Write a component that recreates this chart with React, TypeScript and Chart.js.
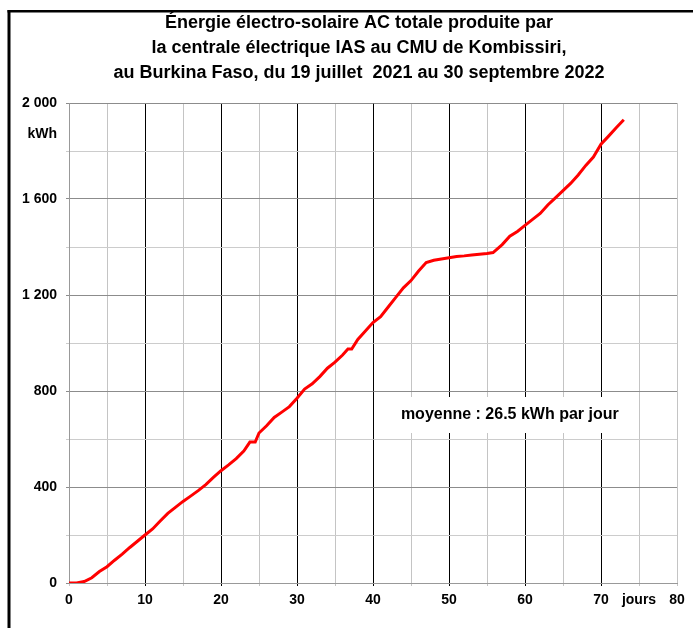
import React, { useEffect, useRef } from "react";
import { Chart, registerables } from "chart.js";

Chart.register(...registerables);

const titleLines = [
  "Énergie électro-solaire AC totale produite par",
  "la centrale électrique IAS au CMU de Kombissiri,",
  "au Burkina Faso, du 19 juillet  2021 au 30 septembre 2022",
];
const yUnit = "kWh";
const xUnit = "jours";
const noteText = "moyenne : 26.5 kWh par jour";

const days = [
  0, 1, 2, 3, 4, 5, 6, 7, 8, 9, 10, 11, 12, 13, 14, 15, 16, 17, 18, 19, 20, 21, 22, 23,
  23.8, 24.5, 25, 26, 27, 28, 29, 30, 31, 32, 33, 34, 35, 36, 36.7, 37.2, 38, 39, 40, 41,
  42, 43, 44, 45, 46, 47, 48, 49, 50, 51, 52, 53, 54, 55, 55.8, 57, 58, 59, 60, 61, 62, 63,
  64, 65, 66, 67, 68, 69, 70, 71, 72, 73,
];
const energy = [
  0, 0, 6, 22, 48, 68, 95, 120, 148, 174, 200, 225, 258, 290, 315, 340, 362, 385, 410,
  440, 468, 492, 518, 550, 587, 587, 625, 655, 690, 712, 735, 770, 808, 830, 860, 895,
  920, 950, 975, 975, 1015, 1050, 1085, 1110, 1150, 1190, 1230, 1260, 1300, 1335, 1345,
  1350, 1355, 1360, 1363, 1367, 1370, 1373, 1377, 1410, 1445, 1465, 1490, 1515, 1540,
  1575, 1605, 1635, 1665, 1700, 1740, 1775, 1828, 1862, 1897, 1930,
];

const FONT = "'Liberation Sans', Arial, sans-serif";

const fmtY = (v: number) => {
  if (v % 400 !== 0) return "";
  if (v >= 1000) return `${Math.floor(v / 1000)} ${String(v % 1000).padStart(3, "0")}`;
  return String(v);
};

const decorPlugin = {
  id: "decor",
  beforeDatasetsDraw(chart: any) {
    const { ctx, scales } = chart;
    const x = scales.x.getPixelForValue(58);
    const y = scales.y.getPixelForValue(700);
    ctx.save();
    ctx.font = `bold 16px ${FONT}`;
    const w = ctx.measureText(noteText).width;
    ctx.fillStyle = "#ffffff";
    ctx.fillRect(x - w / 2 - 4, y - 18, w + 8, 36);
    ctx.fillStyle = "#000";
    ctx.textAlign = "center";
    ctx.textBaseline = "middle";
    ctx.fillText(noteText, x, y);
    ctx.restore();
  },
  afterDraw(chart: any) {
    const { ctx, scales } = chart;
    ctx.save();
    // outer frame
    ctx.fillStyle = "#000";
    ctx.fillRect(7.5, 10, 3, chart.height);
    ctx.fillRect(7.5, 10, chart.width, 2.5);
    // title
    ctx.font = `bold 18px ${FONT}`;
    ctx.textAlign = "center";
    ctx.textBaseline = "middle";
    titleLines.forEach((t, i) => ctx.fillText(t, 359, 23 + i * 25));
    // y unit
    ctx.font = `bold 14px ${FONT}`;
    ctx.textAlign = "right";
    ctx.fillText(yUnit, scales.y.left + scales.y.width - 12, 134);
    ctx.restore();
  },
};

export default function App() {
  const ref = useRef<HTMLCanvasElement | null>(null);
  useEffect(() => {
    if (!ref.current) return;
    const chart = new Chart(ref.current, {
      type: "line",
      data: {
        datasets: [
          {
            data: days.map((d, i) => ({ x: d, y: energy[i] })),
            borderColor: "#ff0000",
            borderWidth: 3,
            pointRadius: 0,
            tension: 0,
            fill: false,
          },
        ],
      },
      options: {
        animation: false,
        responsive: false,
        devicePixelRatio: 1,
        layout: { padding: { top: 103, right: 16, left: 0, bottom: 0 } },
        plugins: { legend: { display: false }, tooltip: { enabled: false }, title: { display: false } },
        scales: {
          x: {
            type: "linear",
            min: 0,
            max: 80,
            afterFit: (s: any) => {
              s.height = 45;
            },
            afterBuildTicks: (s: any) => {
              const t = [];
              for (let v = 0; v <= 80; v += 5) t.push({ value: v });
              s.ticks = t;
            },
            ticks: {
              autoSkip: false,
              maxRotation: 0,
              padding: 6,
              color: "#000",
              font: { family: FONT, size: 14, weight: "bold" },
              callback: (v: any) => {
                if (v === 75) return xUnit;
                return v % 10 === 0 ? String(v) : "";
              },
            },
            grid: {
              tickLength: 3,
              lineWidth: 1,
              color: (c: any) => {
                const v = c.tick ? c.tick.value : 0;
                if (v > 0 && v < 80 && v % 10 === 0) return "#000000";
                return "#c4c4c4";
              },
            },
            border: { color: "#999999", width: 1 },
          },
          y: {
            type: "linear",
            min: 0,
            max: 2000,
            afterFit: (s: any) => {
              s.width = 69;
            },
            ticks: {
              stepSize: 200,
              autoSkip: false,
              padding: 9,
              color: "#000",
              font: { family: FONT, size: 14, weight: "bold" },
              callback: (v: any) => fmtY(Number(v)),
            },
            grid: {
              tickLength: 3,
              lineWidth: 1,
              color: (c: any) => {
                const v = c.tick ? c.tick.value : 0;
                return v % 400 === 0 ? "#8c8c8c" : "#cccccc";
              },
            },
            border: { color: "#999999", width: 1 },
          },
        },
      },
      plugins: [decorPlugin],
    } as any);
    return () => chart.destroy();
  }, []);
  return (
    <div style={{ position: "fixed", left: 0, top: 0, width: 693, height: 628, background: "#fff" }}>
      <canvas ref={ref} width={693} height={628} style={{ width: 693, height: 628 }} />
    </div>
  );
}
